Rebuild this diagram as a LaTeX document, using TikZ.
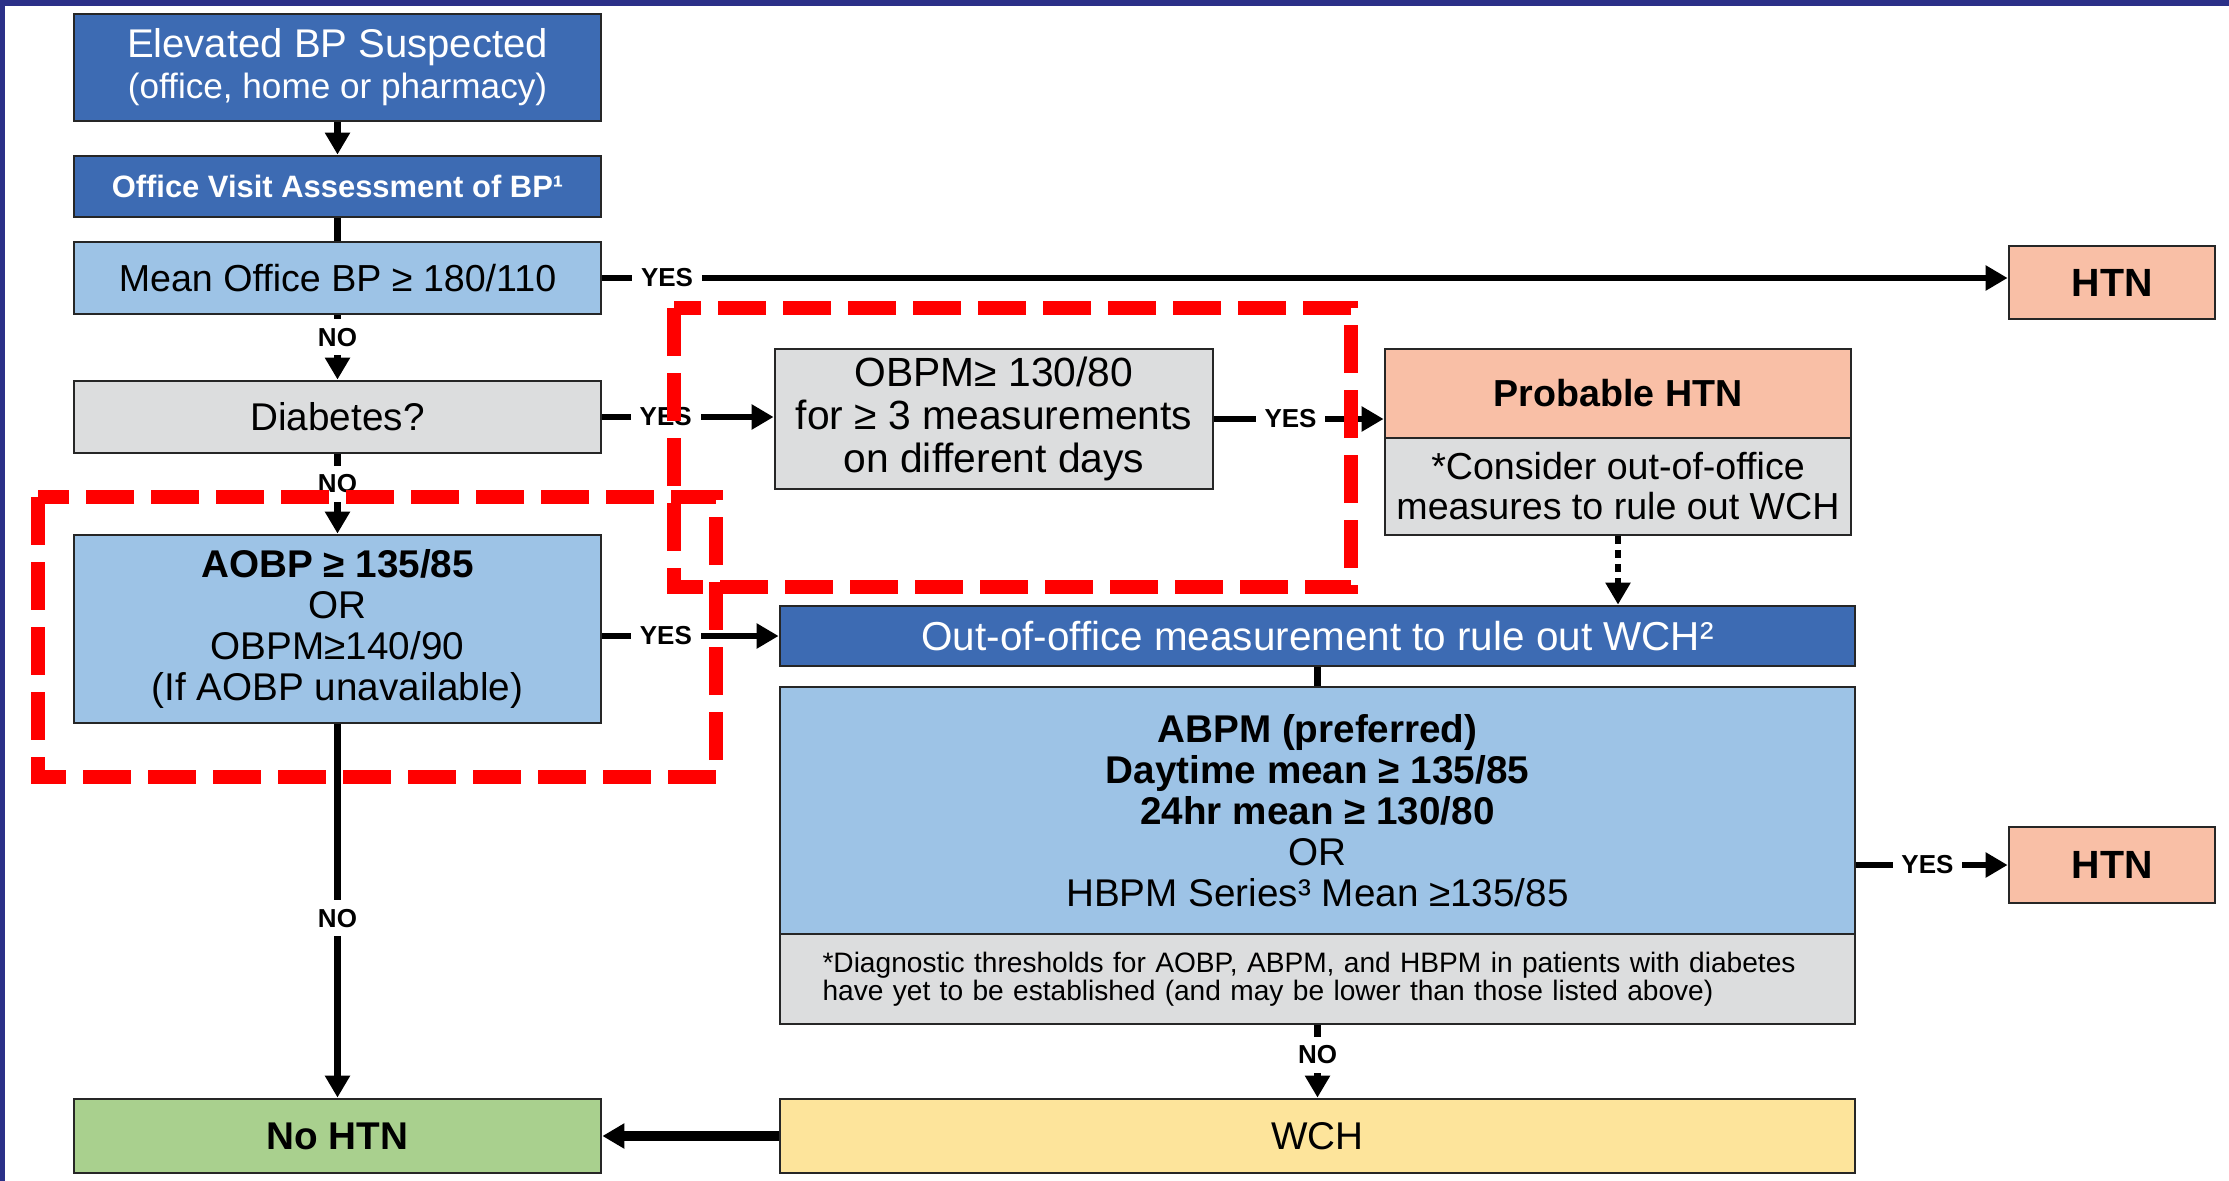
\documentclass[tikz,border=0pt]{standalone}
\usepackage{fontspec}
\setmainfont{Liberation Sans}
\usetikzlibrary{arrows.meta}
\definecolor{bpNavy}{HTML}{2B3088}
\definecolor{bpDarkBlueF}{HTML}{3D6BB3}
\definecolor{bpLightBlueF}{HTML}{9DC3E6}
\definecolor{bpGrayF}{HTML}{DCDDDE}
\definecolor{bpPeachF}{HTML}{F9BFA6}
\definecolor{bpGreenF}{HTML}{A9D08E}
\definecolor{bpYellowF}{HTML}{FDE49B}
\definecolor{bpEdge}{HTML}{262626}
\definecolor{bpRed}{HTML}{FF0000}
\tikzset{
  >={Triangle[length=2.2mm, width=2.4mm]},
  fbox/.style={draw=bpEdge, line width=0.8pt, inner sep=0pt, align=center,
    font=\fontsize{11}{11.7}\selectfont},
  navyb/.style  ={fbox, fill=bpDarkBlueF, text=white},
  blueb/.style  ={fbox, fill=bpLightBlueF},
  greyb/.style  ={fbox, fill=bpGrayF},
  peachb/.style ={fbox, fill=bpPeachF},
  greenb/.style ={fbox, fill=bpGreenF},
  yellowb/.style={fbox, fill=bpYellowF},
  leftcol/.style={minimum width=5.27cm},
  widecol/.style={minimum width=10.75cm},
  flow/.style={->, line width=1.8pt, draw=black},
  link/.style={line width=1.8pt, draw=black},
  elabel/.style={font=\fontsize{7.4}{8}\selectfont\bfseries, inner sep=2.5pt, fill=white},
  hilite/.style={draw=bpRed, line width=4pt, dash pattern=on 4.8mm off 1.7mm},
}

\begin{document}
\begin{tikzpicture}

  % ---- Frame -------------------------------------------------------------
  \useasboundingbox (0,0) rectangle (22.29,-11.81);
  \fill[white] (0,0) rectangle (22.29,-11.81);
  \fill[bpNavy] (0,0) rectangle (22.29,-0.06);
  \fill[bpNavy] (0,0) rectangle (0.05,-11.81);

  % ---- Nodes -------------------------------------------------------------
  \node[navyb,leftcol,minimum height=1.07cm] (elev) at (3.375,-0.675)
    {{\fontsize{11.4}{11.7}\selectfont Elevated BP Suspected}\\
     {\fontsize{10}{11.7}\selectfont (office, home or pharmacy)}};
  \node[navyb,leftcol,minimum height=0.61cm,font=\fontsize{8.8}{10}\selectfont\bfseries]
    (visit) at (3.375,-1.865) {Office Visit Assessment of BP¹};
  \node[blueb,leftcol,minimum height=0.72cm,font=\fontsize{10.7}{12}\selectfont]
    (mean) at (3.375,-2.78) {Mean Office BP ≥ 180/110};
  \node[greyb,leftcol,minimum height=0.72cm] (diab) at (3.375,-4.17) {Diabetes?};
  \node[blueb,leftcol,minimum height=1.88cm] (aobp) at (3.375,-6.29)
    {\textbf{AOBP ≥ 135/85}\\OR\\OBPM≥140/90\\(If AOBP unavailable)};
  \node[greenb,leftcol,minimum height=0.74cm] (nohtn) at (3.375,-11.36) {\textbf{No HTN}};

  \node[greyb,minimum width=4.38cm,minimum height=1.40cm,
    font=\fontsize{11.6}{12.2}\selectfont] (obpm) at (9.94,-4.19)
    {OBPM≥ 130/80\\for ≥ 3 measurements\\on different days};
  \node[peachb,minimum width=4.66cm,minimum height=0.89cm,
    font=\fontsize{10.7}{12}\selectfont\bfseries] (prob) at (16.18,-3.935) {Probable HTN};
  \node[greyb,minimum width=4.66cm,minimum height=0.97cm,
    font=\fontsize{10.7}{11.4}\selectfont] (probnote) at (16.18,-4.865)
    {*Consider out-of-office\\measures to rule out WCH};

  \node[navyb,widecol,minimum height=0.60cm,font=\fontsize{11.5}{12}\selectfont]
    (ooo) at (13.175,-6.36) {Out-of-office measurement to rule out WCH²};
  \node[blueb,widecol,minimum height=2.47cm] (abpm) at (13.175,-8.105)
    {\textbf{ABPM (preferred)}\\\textbf{Daytime mean ≥ 135/85}\\
     \textbf{24hr mean ≥ 130/80}\\OR\\HBPM Series³ Mean ≥135/85};
  \node[greyb,widecol,minimum height=0.90cm,align=left,text width=9.9cm,
    inner xsep=0.425cm,font=\fontsize{8}{8}\selectfont] (note) at (13.175,-9.79)
    {*Diagnostic thresholds for AOBP, ABPM, and HBPM in patients with diabetes\\
     have yet to be established (and may be lower than those listed above)};
  \node[yellowb,widecol,minimum height=0.74cm] (wch) at (13.175,-11.36) {WCH};

  \node[peachb,minimum width=2.06cm,minimum height=0.73cm,font=\fontsize{11.2}{12}\selectfont\bfseries]
    (htn1) at (21.12,-2.825) {HTN};
  \node[peachb,minimum width=2.06cm,minimum height=0.76cm,font=\fontsize{11.2}{12}\selectfont\bfseries]
    (htn2) at (21.12,-8.65) {HTN};

  % ---- Edges -------------------------------------------------------------
  \draw[flow] (elev) -- (visit);
  \draw[link] (visit) -- (mean);
  \draw[flow] (mean) -- node[elabel,pos=0.34]{NO} (diab);
  \draw[flow] (mean.east) -- node[elabel,pos=0.046]{YES} (mean.east -| htn1.west);

  % diabetes? Yes -> repeated OBPM ; No -> AOBP
  \draw[flow] (diab.east) -- node[elabel,pos=0.37]{YES} (diab.east -| obpm.west);
  \draw[flow] (diab) -- node[elabel,pos=0.37]{NO} (aobp);
  \draw[flow] (obpm.east) -- node[elabel,pos=0.45]{YES} (obpm.east -| prob.west);
  \draw[flow, line width=1.6pt, dash pattern=on 0.8mm off 0.6mm]
    (probnote.south) -- (probnote.south |- ooo.north);

  % AOBP Yes -> out-of-office ; No -> no HTN
  \draw[flow] (ooo.west -| aobp.east) -- node[elabel,pos=0.36]{YES} (ooo.west);
  \draw[flow] (aobp) -- node[elabel,pos=0.52]{NO} (nohtn);

  % out-of-office measurement -> HTN or WCH
  \draw[link] (ooo) -- (abpm);
  \draw[flow] (htn2.west -| abpm.east) -- node[elabel,pos=0.47]{YES} (htn2.west);
  \draw[flow] (note) -- node[elabel,pos=0.41]{NO} (wch);
  \draw[->, line width=3pt] (wch) -- (nohtn);

  % ---- Highlights --------------------------------------------------------
  \draw[hilite] (6.74,-3.08) rectangle (13.51,-5.87);
  \draw[hilite] (0.38,-4.97) rectangle (7.16,-7.77);

\end{tikzpicture}
\end{document}
